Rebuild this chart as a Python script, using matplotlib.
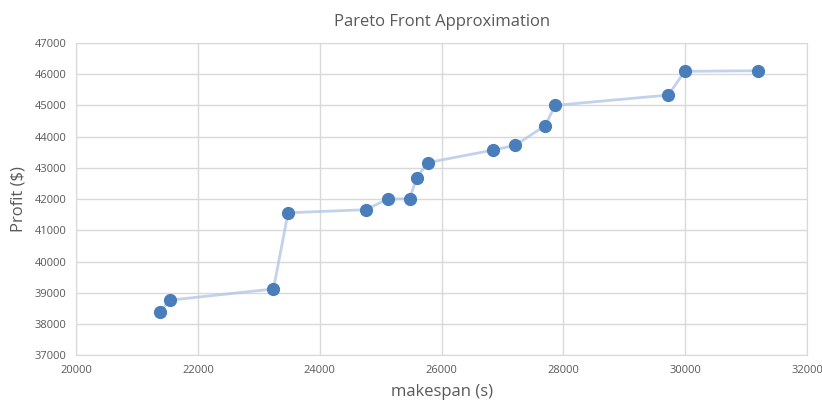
import matplotlib
matplotlib.use("Agg")
import matplotlib.pyplot as plt

# pareto front points
makespan = [21380, 21536, 23240, 23480, 24757, 25113, 25474, 25595, 25771,
            26849, 27206, 27699, 27862, 29720, 29990, 31195]
profit = [38381, 38762, 39120, 41560, 41660, 42000, 42010, 42686, 43167,
          43570, 43720, 44350, 45000, 45331, 46090, 46110]

xticks = [20000, 22000, 24000, 26000, 28000, 30000, 32000]
yticks = [37000, 38000, 39000, 40000, 41000, 42000, 43000, 44000, 45000, 46000, 47000]

plt.rcParams['font.family'] = ['Liberation Sans Narrow', 'Open Sans', 'DejaVu Sans']

fig = plt.figure(figsize=(8.22, 4.05), dpi=100)
ax = fig.add_axes([0.0925, 0.123, 0.8895, 0.771])

ax.plot(makespan, profit, color='#b4c7e7', lw=2, alpha=0.8, zorder=2)
ax.plot(makespan, profit, 'o', color='#4a7ebb', markersize=8.5, zorder=3)

ax.set_xlim(20000, 32000)
ax.set_ylim(37000, 47000)
ax.set_xticks(xticks)
ax.set_yticks(yticks)
ax.grid(True, color='#d9d9d9', lw=1)
ax.set_axisbelow(True)
for s in ax.spines.values():
    s.set_color('#d9d9d9')
ax.tick_params(length=0, labelsize=8, colors='#595959', pad=7)

ax.set_title('Pareto Front Approximation', fontsize=12, color='#595959',
             family=['Open Sans', 'DejaVu Sans'], pad=12)
ax.set_xlabel('makespan (s)', fontsize=12, color='#595959',
              family=['Open Sans', 'DejaVu Sans'], labelpad=6)
ax.set_ylabel('Profit ($)', fontsize=12, color='#595959',
              family=['Open Sans', 'DejaVu Sans'], labelpad=6)

fig.savefig('out.png', dpi=100)
